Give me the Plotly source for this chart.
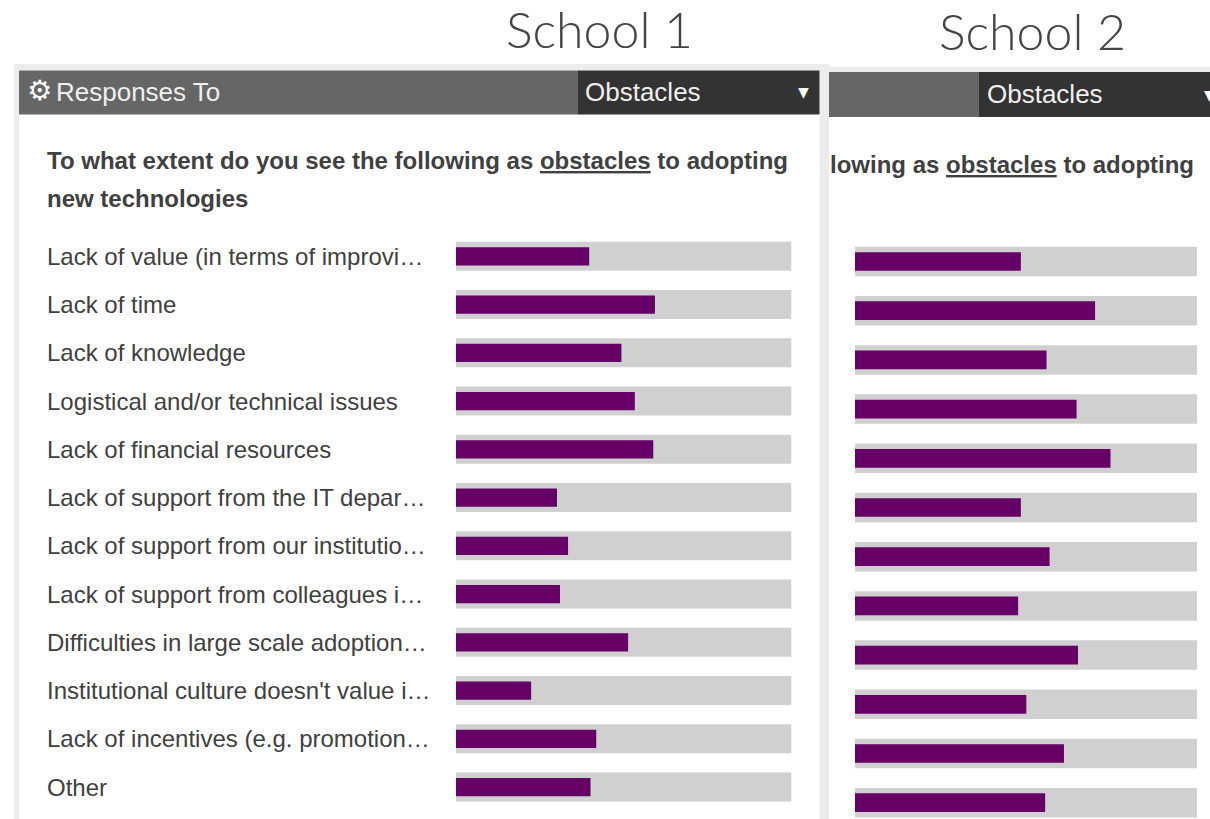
import plotly.graph_objects as go

categories = [
    "Lack of value (in terms of improvi…",
    "Lack of time",
    "Lack of knowledge",
    "Logistical and/or technical issues",
    "Lack of financial resources",
    "Lack of support from the IT depar…",
    "Lack of support from our institutio…",
    "Lack of support from colleagues i…",
    "Difficulties in large scale adoption…",
    "Institutional culture doesn't value i…",
    "Lack of incentives (e.g. promotion…",
    "Other",
]
school_1 = [39.7, 59.3, 49.3, 53.3, 58.8, 30.1, 33.4, 31.0, 51.3, 22.4, 41.8, 40.1]
school_2 = [48.5, 70.2, 56.0, 64.8, 74.7, 48.5, 56.9, 47.7, 65.2, 50.1, 61.1, 55.6]
track = [100] * len(categories)

W, H = 1210, 819
TRACK_C, BAR_C = "#d0d0d0", "#660066"
TEXT_C = "#404040"
FONT = "Liberation Sans, Arial, sans-serif"
LIGHT = "Lato Light, Noto Sans Light, Open Sans Light, Lato, sans-serif"

fig = go.Figure()
for vals, xa, ya in [(school_1, "x", "y"), (school_2, "x2", "y2")]:
    fig.add_bar(x=track, y=categories, orientation="h", xaxis=xa, yaxis=ya,
                width=0.6, marker=dict(color=TRACK_C, line=dict(width=0)), hoverinfo="skip")
    fig.add_bar(x=vals, y=categories, orientation="h", xaxis=xa, yaxis=ya,
                width=0.38, marker=dict(color=BAR_C, line=dict(width=0)))


def rect(x0, y0, x1, y1, color):
    return dict(type="rect", xref="paper", yref="paper", layer="below",
                x0=x0 / W, x1=x1 / W, y0=1 - y0 / H, y1=1 - y1 / H,
                fillcolor=color, line=dict(width=0))


PANEL = "#ececec"
shapes = [
    rect(14, 64, 829, H, PANEL),
    rect(19, 70.5, 819.5, H, "#ffffff"),
    rect(19, 70.5, 578, 114.5, "#666666"),
    rect(578, 70.5, 819.5, 114.5, "#333333"),
    rect(829, 67, W, H, PANEL),
    rect(829, 72, W, H, "#ffffff"),
    rect(829, 72, 979, 117, "#666666"),
    rect(979, 72, W, 117, "#333333"),
]


def txt(x, y, s, size, color=TEXT_C, family=FONT, anchor="left"):
    return dict(xref="paper", yref="paper", x=x / W, y=1 - y / H, text=s, showarrow=False,
                xanchor=anchor, yanchor="middle", align=anchor,
                font=dict(size=size, color=color, family=family), borderpad=0, borderwidth=0)


ann = [
    txt(599, 29, "School 1", 50, "#444444", LIGHT, "center"),
    txt(1032, 31, "School 2", 50, "#444444", LIGHT, "center"),
    txt(27, 90, "<b>⚙</b>", 28, "#ffffff", "DejaVu Sans"),
    txt(56, 92, "Responses To", 26, "#f0f0f0"),
    txt(585, 92, "Obstacles", 26, "#f0f0f0"),
    txt(798, 92, "▼", 14, "#ffffff", "DejaVu Sans"),
    txt(987, 94, "Obstacles", 26, "#f0f0f0"),
    txt(1204, 95, "▼", 14, "#ffffff", "DejaVu Sans"),
    txt(47, 161, "<b>To what extent do you see the following as <u>obstacles</u> to adopting</b>", 24),
    txt(47, 198, "<b>new technologies</b>", 24),
    txt(1194, 165, "<b>lowing as <u>obstacles</u> to adopting</b>", 24, anchor="right"),
]

R1, S1 = 256.3, 48.25
R2, S2 = 261.5, 49.2
for i, c in enumerate(categories):
    ann.append(txt(47, R1 + S1 * i, c, 24))

axis_off = dict(showgrid=False, zeroline=False, showticklabels=False, ticks="", showline=False)
fig.update_layout(
    width=W, height=H, autosize=False, margin=dict(l=0, r=0, t=0, b=0),
    paper_bgcolor="#ffffff", plot_bgcolor="rgba(0,0,0,0)",
    barmode="overlay", showlegend=False, shapes=shapes, annotations=ann,
    xaxis=dict(domain=[456 / W, 791.5 / W], range=[0, 100], **axis_off),
    xaxis2=dict(domain=[855 / W, 1197 / W], range=[0, 100], **axis_off),
    yaxis=dict(domain=[0, 1], anchor="x", range=[(H - R1) / S1, -R1 / S1],
               categoryorder="array", categoryarray=categories, **axis_off),
    yaxis2=dict(domain=[0, 1], anchor="x2", range=[(H - R2) / S2, -R2 / S2],
                categoryorder="array", categoryarray=categories, **axis_off),
)
fig.write_html("out.html", config=dict(displayModeBar=False),
               post_script="document.body.style.margin='0';document.body.style.overflow='hidden';")
